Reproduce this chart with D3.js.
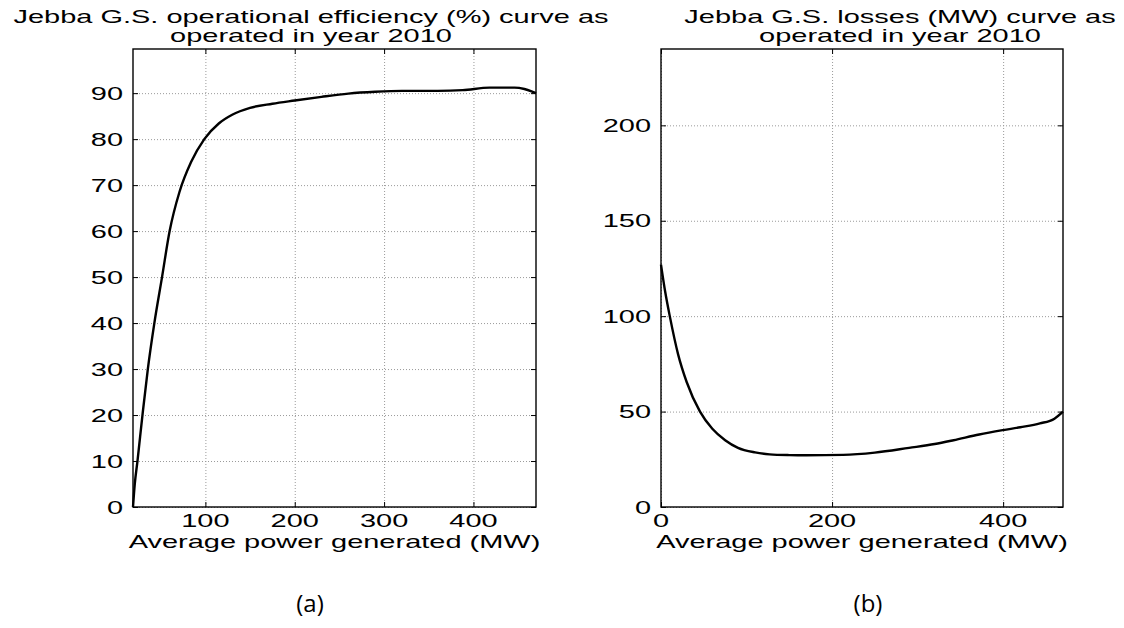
<!DOCTYPE html>
<html>
<head>
<meta charset="utf-8">
<script src="https://cdn.jsdelivr.net/npm/d3@7"></script>
<style>
  body { margin: 0; background: #fff; }
  text { font-family: 'Liberation Sans', Arial, sans-serif; fill: #000; }
</style>
</head>
<body>
<script>
// efficiency curve (a)
const effPower = [19, 21, 24, 29.6, 35.6, 42.9, 51.5, 60, 71, 84, 98.8, 115, 130, 150, 175, 200, 230, 260, 290, 320, 360, 388, 418, 446, 457, 465, 470]
const effValue = [0, 5, 10, 20, 30, 40, 50, 60, 68.5, 75, 80, 83.4, 85.3, 86.8, 87.7, 88.4, 89.2, 89.9, 90.3, 90.5, 90.5, 90.65, 91.2, 91.2, 90.9, 90.4, 90]
const effXTicks = [100, 200, 300, 400]
const effYTicks = [0, 10, 20, 30, 40, 50, 60, 70, 80, 90]

// losses curve (b)
const lossPower = [0, 5, 10.5, 20, 30, 45.6, 60, 75, 90, 110, 127, 150, 170, 213, 250, 290, 320, 342, 372, 400, 420, 443, 460, 470]
const lossValue = [127, 112.5, 99.5, 80, 65.5, 50, 41, 35, 31, 28.6, 27.6, 27.2, 27.1, 27.3, 28.5, 31, 33, 35, 38, 40.3, 41.8, 43.8, 46.3, 50]
const lossXTicks = [0, 200, 400]
const lossYTicks = [0, 50, 100, 150, 200]

const W = 1124, H = 628
const SX = 1.61   // the original figure is stretched sideways
const FS = 18

const svg = d3.select("body").append("svg")
    .attr("width", W)
    .attr("height", H)

function stext(g, x, y, str, anchor) {
    g.append("text")
        .attr("transform", "translate(" + x + "," + y + ") scale(" + SX + ",1)")
        .attr("text-anchor", anchor)
        .style("font-size", FS + "px")
        .text(str)
}

function panel(p) {
    const g = svg.append("g")
    const x = d3.scaleLinear().domain(p.xDomain).range([p.left, p.right])
    const y = d3.scaleLinear().domain(p.yDomain).range([p.bottom, p.top])
    const w = p.right - p.left, h = p.bottom - p.top

    // dotted grid
    const gx = g.append("g").attr("transform", "translate(0," + p.bottom + ")")
        .call(d3.axisBottom(x).tickValues(p.xTicks).tickSize(-h).tickFormat(""))
    const gy = g.append("g").attr("transform", "translate(" + p.left + ",0)")
        .call(d3.axisLeft(y).tickValues(p.yTicks).tickSize(-w).tickFormat(""))
    ;[gx, gy].forEach(a => {
        a.select(".domain").remove()
        a.selectAll("line").attr("stroke", "#9a9a9a").attr("stroke-dasharray", "1,2")
    })

    // inward tick marks on all four sides
    const tk = [
        ["translate(0," + p.bottom + ")", d3.axisBottom(x).tickValues(p.xTicks)],
        ["translate(0," + p.top + ")", d3.axisTop(x).tickValues(p.xTicks)],
        ["translate(" + p.left + ",0)", d3.axisLeft(y).tickValues(p.yTicks)],
        ["translate(" + p.right + ",0)", d3.axisRight(y).tickValues(p.yTicks)]
    ]
    tk.forEach(([t, ax]) => {
        const a = g.append("g").attr("transform", t).call(ax.tickSize(-5).tickFormat(""))
        a.select(".domain").remove()
        a.selectAll("line").attr("stroke", "#000")
    })

    // frame
    g.append("rect")
        .attr("x", p.left).attr("y", p.top)
        .attr("width", w).attr("height", h)
        .attr("fill", "none").attr("stroke", "#000").attr("stroke-width", 1.4)

    // curve
    const pts = p.xs.map((v, i) => [v, p.ys[i]])
    const line = d3.line().x(d => x(d[0])).y(d => y(d[1])).curve(d3.curveMonotoneX)
    g.append("path")
        .attr("d", line(pts))
        .attr("fill", "none")
        .attr("stroke", "#000")
        .attr("stroke-width", 2.4)

    // tick labels
    p.yTicks.forEach(v => stext(g, p.left - 10, y(v) + 6.5, v, "end"))
    p.xTicks.forEach(v => stext(g, x(v), 527, v, "middle"))

    // titles
    stext(g, p.titleX, 23, p.title[0], "middle")
    stext(g, p.titleX, 42, p.title[1], "middle")
    stext(g, (p.left + p.right) / 2, 548, "Average power generated (MW)", "middle")

    g.append("text")
        .attr("x", p.capX).attr("y", 612)
        .attr("text-anchor", "middle")
        .style("font-family", "'Open Sans', 'DejaVu Sans', sans-serif")
        .style("font-size", "24px")
        .text(p.caption)
}

panel({
    left: 133, right: 536, top: 49, bottom: 507,
    xDomain: [19, 470], yDomain: [0, 99.6],
    xTicks: effXTicks, yTicks: effYTicks,
    xs: effPower, ys: effValue,
    title: ["Jebba G.S. operational efficiency (%) curve as", "operated in year 2010"],
    titleX: 311, caption: "(a)", capX: 310
})

panel({
    left: 661, right: 1063, top: 49, bottom: 507,
    xDomain: [0, 470], yDomain: [0, 240],
    xTicks: lossXTicks, yTicks: lossYTicks,
    xs: lossPower, ys: lossValue,
    title: ["Jebba G.S. losses (MW) curve as", "operated in year 2010"],
    titleX: 900, caption: "(b)", capX: 868
})
</script>
</body>
</html>
